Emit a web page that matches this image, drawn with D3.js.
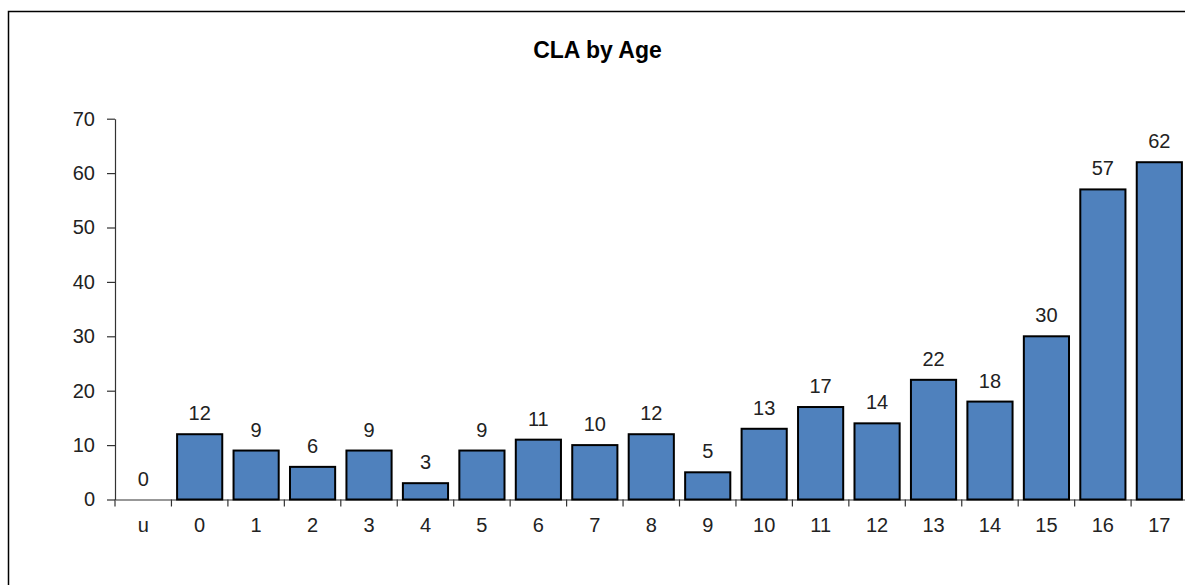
<!DOCTYPE html>
<html>
<head>
<meta charset="utf-8">
<script src="https://cdnjs.cloudflare.com/ajax/libs/d3/7.8.5/d3.min.js"></script>
<style>
  body { margin: 0; background: #fff; overflow: hidden; }
  svg { display: block; font-family: "Liberation Sans", Arial, sans-serif; }
</style>
</head>
<body>
<svg id="chart"></svg>
<script>
const categories = ["u", "0", "1", "2", "3", "4", "5", "6", "7", "8", "9", "10", "11", "12", "13", "14", "15", "16", "17"];
const counts = [0, 12, 9, 6, 9, 3, 9, 11, 10, 12, 5, 13, 17, 14, 22, 18, 30, 57, 62];
const yTicks = [0, 10, 20, 30, 40, 50, 60, 70];
const chartTitle = "CLA by Age";

const width = 1185;
const height = 585;
const plot = { left: 115, top: 118.7, bottom: 499.5, step: 56.45 };

const data = categories.map((c, i) => ({ cat: c, value: counts[i] }));

const svg = d3.select("#chart")
  .attr("width", width)
  .attr("height", height);

// outer frame (runs off the right and bottom edges)
svg.append("rect")
  .attr("x", 8.5)
  .attr("y", 11.5)
  .attr("width", 1180)
  .attr("height", 600)
  .attr("fill", "none")
  .attr("stroke", "#000")
  .attr("stroke-width", 1.5);

svg.append("text")
  .attr("x", 597.5)
  .attr("y", 58)
  .attr("text-anchor", "middle")
  .style("font-size", "23px")
  .style("font-weight", "bold")
  .text(chartTitle);

const x = d3.scaleBand()
  .domain(categories)
  .range([plot.left, plot.left + plot.step * categories.length])
  .paddingInner(0.2)
  .paddingOuter(0.1);

const y = d3.scaleLinear()
  .domain([0, 70])
  .range([plot.bottom, plot.top]);

// y axis
const yAxis = svg.append("g")
  .attr("transform", `translate(${plot.left},0)`)
  .call(d3.axisLeft(y).tickValues(yTicks).tickSize(8).tickPadding(12).tickSizeOuter(0));
yAxis.select(".domain").attr("stroke", "#333").attr("stroke-width", 1.2);
yAxis.selectAll(".tick line").attr("stroke", "#333").attr("stroke-width", 1.2);
yAxis.selectAll("text")
  .style("font-size", "20px")
  .attr("fill", "#222")
  .style("font-family", "Liberation Sans, Arial, sans-serif");

// x axis: labels centered, ticks between categories
const xAxis = svg.append("g")
  .attr("transform", `translate(0,${plot.bottom})`)
  .call(d3.axisBottom(x).tickSize(0).tickPadding(18).tickSizeOuter(0));
xAxis.select(".domain").attr("stroke", "#333").attr("stroke-width", 1.2);
xAxis.selectAll("text")
  .style("font-size", "20px")
  .attr("fill", "#222")
  .style("font-family", "Liberation Sans, Arial, sans-serif");

const boundaries = categories.map(c => x(c) - x.step() * x.paddingInner() / 2);
boundaries.push(x(categories[categories.length - 1]) + x.bandwidth() + x.step() * x.paddingInner() / 2);
svg.append("g")
  .selectAll("line")
  .data(boundaries)
  .join("line")
  .attr("x1", d => d)
  .attr("x2", d => d)
  .attr("y1", plot.bottom)
  .attr("y2", plot.bottom + 7)
  .attr("stroke", "#333")
  .attr("stroke-width", 1.2);

// bars
svg.append("g")
  .selectAll("rect")
  .data(data.filter(d => d.value > 0))
  .join("rect")
  .attr("x", d => x(d.cat))
  .attr("y", d => y(d.value))
  .attr("width", x.bandwidth())
  .attr("height", d => y(0) - y(d.value))
  .attr("fill", "#4F81BD")
  .attr("stroke", "#000")
  .attr("stroke-width", 2);

// value labels
svg.append("g")
  .selectAll("text")
  .data(data)
  .join("text")
  .attr("x", d => x(d.cat) + x.bandwidth() / 2)
  .attr("y", d => y(d.value) - 14)
  .attr("text-anchor", "middle")
  .style("font-size", "20px")
  .attr("fill", "#222")
  .text(d => d.value);
</script>
</body>
</html>
